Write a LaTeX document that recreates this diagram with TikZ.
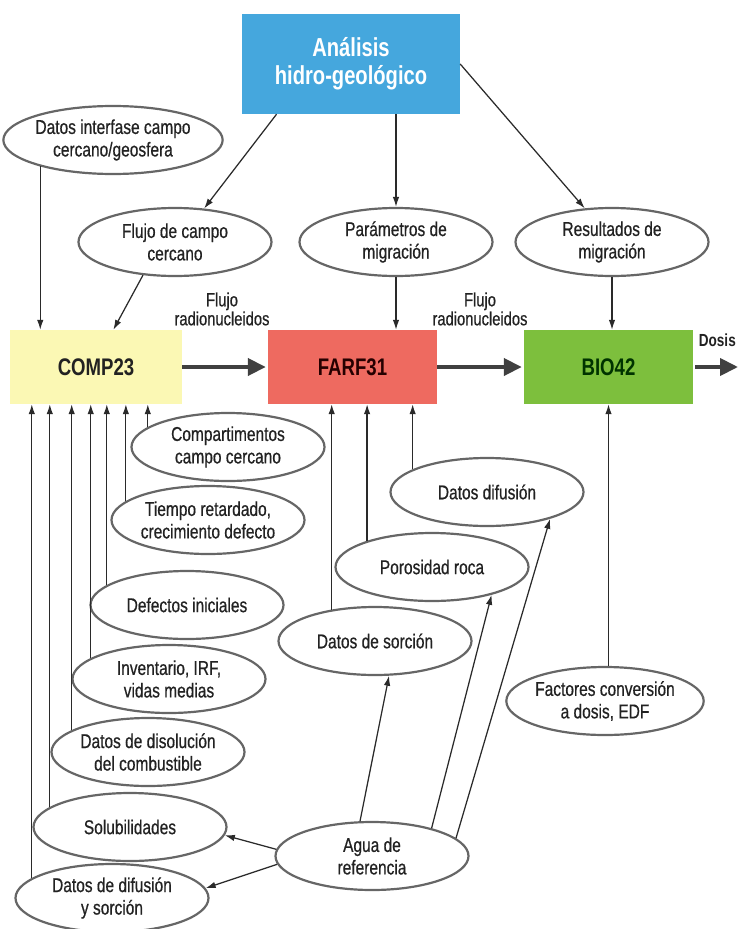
\documentclass[tikz,border=0pt]{standalone}
\usepackage{fontspec}
\setmainfont{Liberation Sans}[FakeStretch=0.775, UprightFeatures={FakeBold=0.6}]
\usetikzlibrary{arrows.meta,shapes.geometric}
\definecolor{hidroblue}{HTML}{45A7DD}
\definecolor{compyellow}{HTML}{FBF8B4}
\definecolor{farfred}{HTML}{EE6A60}
\definecolor{biogreen}{HTML}{7DBF3D}
\definecolor{ovalgray}{HTML}{666666}
\definecolor{inkdark}{HTML}{222222}
\definecolor{linedark}{HTML}{2A2A2A}
\definecolor{flowgray}{HTML}{404040}
\begin{document}
\begin{tikzpicture}[x=1pt,y=-1pt,
  oval/.style={ellipse, draw=ovalgray, line width=2.2pt, minimum width=193pt,
    minimum height=68pt, inner sep=0pt, align=center,
    font=\fontsize{20}{22.5}\selectfont, text=inkdark},
  modbox/.style={rectangle, minimum height=74pt, inner sep=0pt,
    font=\bfseries\fontsize{24}{26}\selectfont},
  flowlabel/.style={align=center, font=\fontsize{19}{19}\selectfont, text=inkdark},
  feed/.style={-{Latex[length=10pt,width=6.5pt]}, line width=1.25pt, draw=linedark},
  flow/.style={-{Triangle[length=18pt,width=17pt]}, line width=4pt, draw=flowgray},
]
\useasboundingbox (0,0) rectangle (737,929);

% hydro-geological analysis
\node[rectangle, fill=hidroblue, minimum width=218pt, minimum height=100pt,
  inner sep=0pt, align=center, text=white,
  font=\bfseries\fontsize{26}{28}\selectfont] (top) at (351,64) {Análisis\\hidro-geológico};

% upper inputs
\node[oval] (inter) at (113,140) {Datos interfase campo\\cercano/geosfera};
\node[oval] (flujo) at (175,242) {Flujo de campo\\cercano};
\node[oval] (param) at (396,242) {Parámetros de\\migración};
\node[oval] (res) at (612,242) {Resultados de\\migración};

% model chain
\node[modbox, fill=compyellow, minimum width=172pt, text=inkdark] (comp) at (96,367) {COMP23};
\node[modbox, fill=farfred, minimum width=169pt, text=black!85!red] (farf) at (352.5,367) {FARF31};
\node[modbox, fill=biogreen, minimum width=169pt, text=black!80!green] (bio) at (608.5,367) {BIO42};
\coordinate (out) at (738,367);

\node[flowlabel] (fl1) at (222,309) {Flujo\\radionucleidos};
\node[flowlabel] (fl2) at (480,309) {Flujo\\radionucleidos};
\node[font=\bfseries\fontsize{17.5}{19}\selectfont, text=inkdark, anchor=east, inner sep=0pt] (dosis) at (736,340) {Dosis};

% near-field data
\node[oval] (cc) at (228,447) {Compartimentos\\campo cercano};
\node[oval] (tr) at (208,520) {Tiempo retardado,\\crecimiento defecto};
\node[oval] (di) at (187,605) {Defectos iniciales};
\node[oval] (inv) at (169,679) {Inventario, IRF,\\vidas medias};
\node[oval] (dis) at (148,752) {Datos de disolución\\del combustible};
\node[oval] (sol) at (130,827) {Solubilidades};
\node[oval] (dys) at (112,898) {Datos de difusión\\y sorción};

% geosphere and biosphere data
\node[oval] (dd) at (487,492) {Datos difusión};
\node[oval] (por) at (432,567) {Porosidad roca};
\node[oval] (sor) at (375,641) {Datos de sorción};
\node[oval] (fac) at (605,701) {Factores conversión\\a dosis, EDF};
\node[oval] (agua) at (372,856) {Agua de\\referencia};

% arrows from the hydro-geological analysis
\draw[feed] (top.214) -- (flujo.49);
\draw[feed] (top.south -| param.north) -- (param.north);
\draw[feed] (top.east) -- (res.129);

% inputs into the chain
\draw[feed] (inter.200) -- (inter.200 |- comp.north);
\draw[feed] (flujo.226) -- (comp.65);
\draw[feed] (param.south) -- (param.south |- farf.north);
\draw[feed] (res.south) -- (res.south |- bio.north);

% radionuclide flow
\draw[flow] (comp.east) -- ([xshift=-2pt]farf.west);
\draw[flow] (farf.east) -- ([xshift=-2pt]bio.west);
\draw[flow] ([xshift=2pt]bio.east) -- (out);

% near-field data into COMP23
\draw[feed] (cc.166.5) -- (cc.166.5 |- comp.south);
\draw[feed] (tr.167.4) -- (tr.167.4 |- comp.south);
\draw[feed] (di.166.5) -- (di.166.5 |- comp.south);
\draw[feed] (inv.165.8) -- (inv.165.8 |- comp.south);
\draw[feed] (dis.164.9) -- (dis.164.9 |- comp.south);
\draw[feed] (sol.166) -- (sol.166 |- comp.south);
\draw[feed] (dys.166.7) -- (dys.166.7 |- comp.south);

% geosphere data into FARF31
\draw[feed] (sor.144.7) -- (sor.144.7 |- farf.south);
\draw[feed] (por.158.4) -- (por.158.4 |- farf.south);
\draw[feed] (dd.163.1) -- (dd.163.1 |- farf.south);

% dose conversion into BIO42
\draw[feed] (bio.south |- fac.north) -- (bio.south);

% reference water
\draw[feed] (agua.109) -- (sor.-68);
\draw[feed] (agua.25) -- (por.-25);
\draw[feed] (agua.12) -- (dd.-23);
\draw[feed] (agua.176) -- (sol.-5);
\draw[feed] (agua.185) -- (dys.6);
\end{tikzpicture}
\end{document}
